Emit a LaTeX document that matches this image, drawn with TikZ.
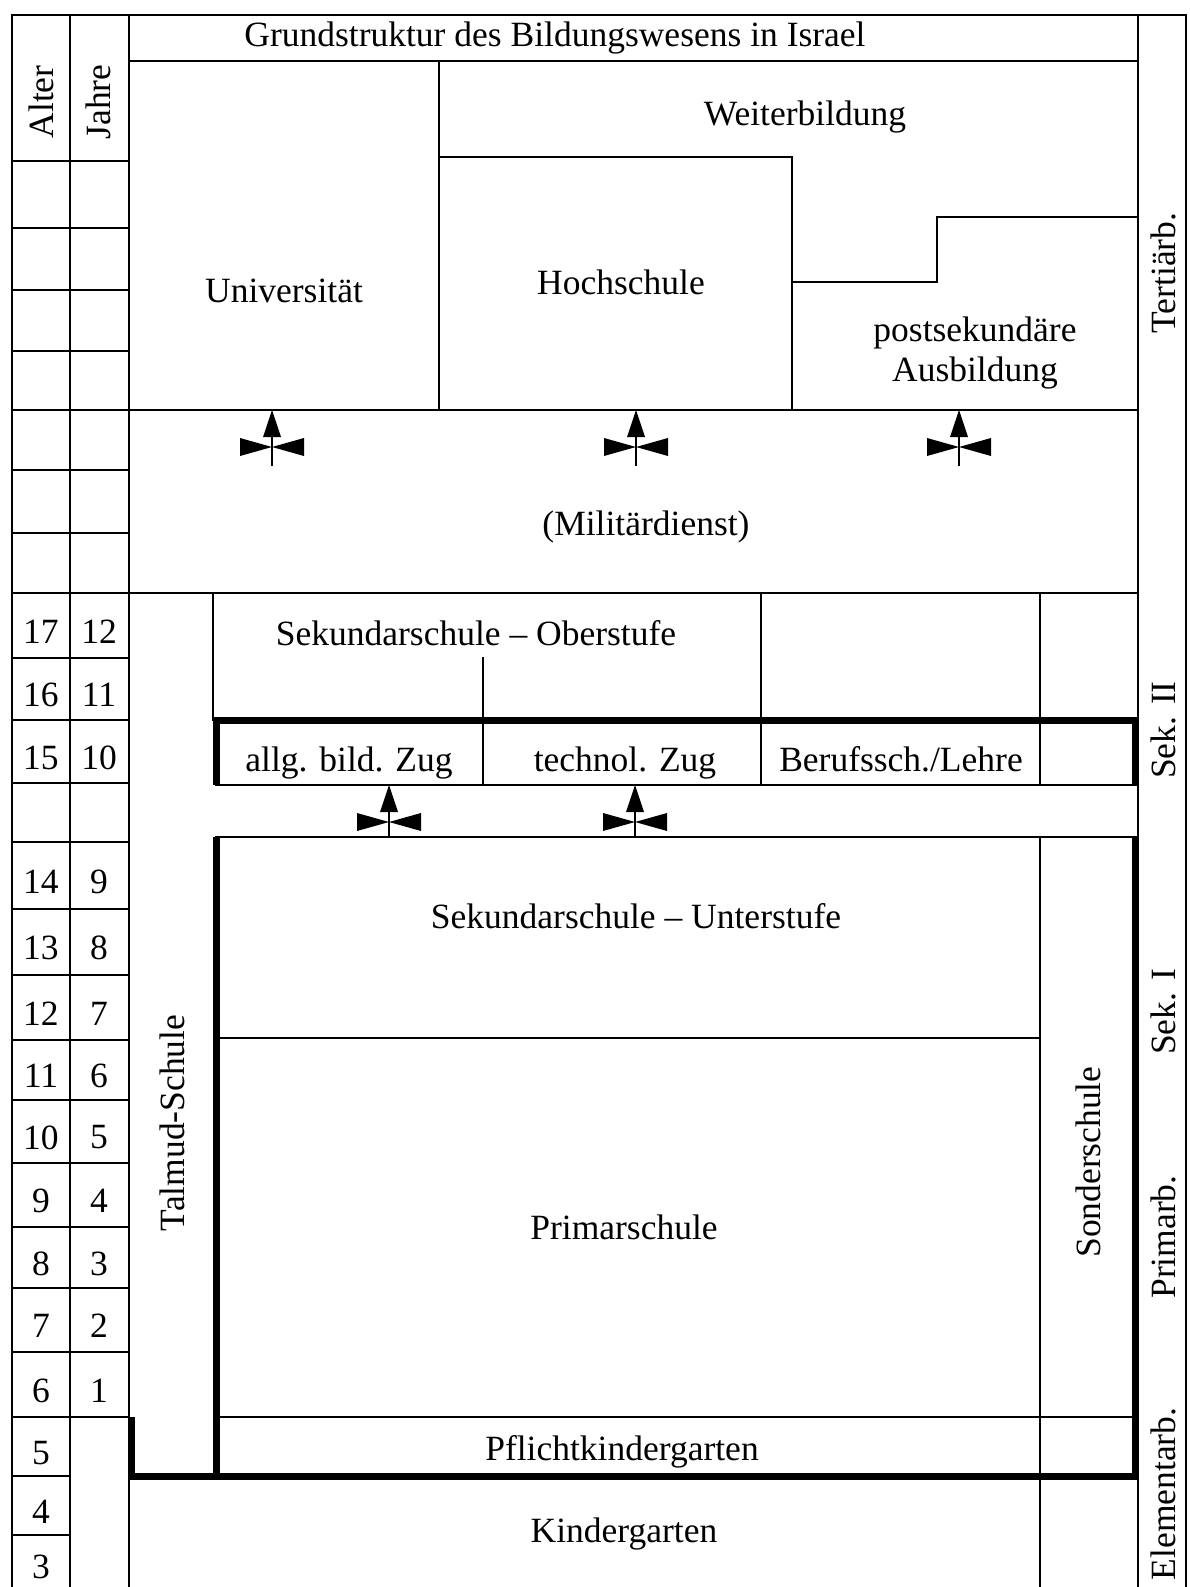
\documentclass[tikz,border=0pt]{standalone}
\usepackage{fontspec}
\setmainfont{Liberation Serif}
\begin{document}
\begin{tikzpicture}[x=1pt,y=-1pt,
  rule/.style={line width=2pt, line cap=rect},
  heavy/.style={line width=7pt, line join=miter},
  lbl/.style={font=\fontsize{35.5}{40}\selectfont, inner sep=0pt},
  vlbl/.style={lbl, rotate=90},
  pics/valve/.style={code={
    \fill (0,0) -- (-9,27) -- (9,27) -- cycle;
    \fill (0,37) -- (-32,28) -- (-32,46) -- cycle;
    \fill (0,37) -- (32,28) -- (32,46) -- cycle;
    \draw[line width=2pt] (0,2) -- (0,#1);
  }}]
\useasboundingbox (0,0) rectangle (1190,1587);

% outer frame and column rules
\draw[rule] (12,15) -- (1186,15);
\draw[rule] (12,15) -- (12,1587);
\draw[rule] (70,15) -- (70,1587);
\draw[rule] (129,15) -- (129,1417);
\draw[rule] (129,1476) -- (129,1587);
\draw[rule] (1138,15) -- (1138,1587);
\draw[rule] (1186,15) -- (1186,1587);

% age / year grid
\foreach \y in {161,228,290,351,470,533,658,720,783,842,909,975,1040,1100,1163,1227,1288,1352,1417}
  \draw[rule] (12,\y) -- (129,\y);
\foreach \y in {1476,1535}
  \draw[rule] (12,\y) -- (70,\y);
\draw[rule] (12,410) -- (1138,410);
\draw[rule] (12,593) -- (1138,593);

% title row
\draw[rule] (129,61) -- (1138,61);

% tertiary sector
\draw[rule] (439,61) -- (439,410);
\draw[rule] (439,157) -- (792,157) -- (792,410);
\draw[rule] (792,282) -- (937,282) -- (937,217) -- (1138,217);

% upper secondary
\draw[rule] (213,593) -- (213,720);
\draw[rule] (483,658) -- (483,785);
\draw[rule] (761,593) -- (761,785);
\draw[rule] (1040,593) -- (1040,785);
\draw[rule] (216,785) -- (1138,785);
\draw[heavy] (216,785) -- (216,720) -- (1135,720) -- (1135,785);

% lower secondary, primary, kindergarten
\draw[rule] (216,837) -- (1138,837);
\draw[rule] (216,1038) -- (1040,1038);
\draw[rule] (1040,837) -- (1040,1587);
\draw[rule] (216,1417) -- (1138,1417);
\draw[heavy] (216,837) -- (216,1476);
\draw[heavy] (131,1417) -- (131,1476) -- (1135,1476) -- (1135,837);

% transition symbols
\pic at (272,410) {valve=56};
\pic at (636,410) {valve=56};
\pic at (959,410) {valve=56};
\pic at (389,785) {valve=52};
\pic at (635,785) {valve=52};

% headings
\node[lbl] (title) at (555,38) {Grundstruktur des Bildungswesens in Israel};
\node[vlbl] (alter) at (41,102) {Alter};
\node[vlbl] (jahre) at (98,102) {Jahre};

% institutions
\node[lbl] (uni) at (284,291) {Universität};
\node[lbl] (weiter) at (805,117) {Weiterbildung};
\node[lbl] (hoch) at (621,282) {Hochschule};
\node[lbl, align=center] (postsek) at (975,353) {postsekundäre\\Ausbildung};
\node[lbl] (mil) at (646,527) {(Militärdienst)};
\node[lbl] (ober) at (476,633) {Sekundarschule – Oberstufe};
\node[lbl, anchor=base] (allg) at (349,771) {allg. bild. Zug};
\node[lbl, anchor=base] (techn) at (625,771) {technol. Zug};
\node[lbl, anchor=base] (beruf) at (901,771) {Berufssch./Lehre};
\node[lbl] (unter) at (636,916) {Sekundarschule – Unterstufe};
\node[lbl] (primar) at (624,1227) {Primarschule};
\node[lbl] (pflicht) at (622,1452) {Pflichtkindergarten};
\node[lbl] (kinder) at (624,1534) {Kindergarten};
\node[vlbl] (talmud) at (172,1123) {Talmud-Schule};
\node[vlbl] (sonder) at (1088,1162) {Sonderschule};

% stage labels
\node[vlbl] (tert) at (1163,273) {Tertiärb.};
\node[vlbl] (sek2) at (1163,730) {Sek. II};
\node[vlbl] (sek1) at (1163,1012) {Sek. I};
\node[vlbl] (prim) at (1163,1237) {Primarb.};
\node[vlbl] (elem) at (1163,1494) {Elementarb.};

% ages and school years
\foreach \a/\j/\ya/\yb in {17/12/593/658,16/11/658/720,15/10/720/783,
    14/9/842/909,13/8/909/975,12/7/975/1040,11/6/1040/1100,10/5/1100/1163,
    9/4/1163/1227,8/3/1227/1288,7/2/1288/1352,6/1/1352/1417} {
  \node[lbl] (age\a) at (41,{(\ya+\yb)/2+6}) {\a};
  \node[lbl] (year\j) at (99,{(\ya+\yb)/2+6}) {\j};
}
\node[lbl] (age5) at (41,1453) {5};
\node[lbl] (age4) at (41,1512) {4};
\node[lbl] (age3) at (41,1567) {3};
\end{tikzpicture}
\end{document}
